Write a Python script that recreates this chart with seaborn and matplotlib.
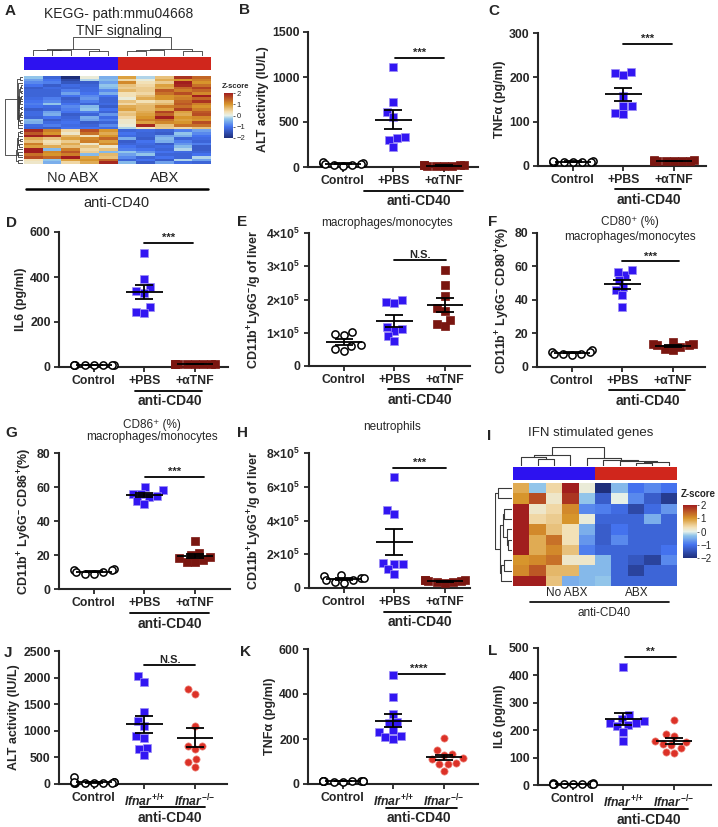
import numpy as np
import pandas as pd
import matplotlib
matplotlib.use("Agg")
import matplotlib.pyplot as plt
import seaborn as sns
from matplotlib.colors import LinearSegmentedColormap, ListedColormap

# ---------------- scatter data ----------------
tnf_groups = ["Control", "+PBS", "+αTNF"]
ifnar_groups = ["Control", r"$\mathit{Ifnar}^{{+}/{+}}$", r"$\mathit{Ifnar}^{{-}/{-}}$"]

# B  ALT activity (IU/L)
alt_ctrl = [40, 60, 30, 20, 50, 15, 35, 25]
alt_pbs = [1110, 725, 615, 560, 335, 320, 300, 225]
alt_atnf = [15, 20, 10, 25, 18, 12, 22, 8]
# C  TNFa (pg/ml)
tnf_ctrl = [10, 9, 11, 10, 10, 9, 11, 10]
tnf_pbs = [210, 205, 212, 158, 135, 117, 136, 120]
tnf_atnf = [12, 12, 11, 13, 12, 12, 11, 13]
# D  IL6 (pg/ml)
il6_ctrl = [8, 9, 8, 7, 9, 8, 8, 9]
il6_pbs = [508, 390, 355, 340, 330, 265, 245, 238]
il6_atnf = [12, 13, 12, 14, 13, 12, 13, 12]
# E  macrophages/monocytes per g liver (x1e5)
mac_ctrl = [0.95, 1.02, 0.93, 0.45, 0.62, 0.60, 0.50]
mac_pbs = [1.92, 1.98, 1.90, 1.10, 1.05, 1.18, 0.90, 0.75]
mac_atnf = [2.90, 2.45, 2.12, 1.75, 1.65, 1.38, 1.20, 1.25]
# F  CD80+ (%)
cd80_ctrl = [8, 9, 10, 8, 7, 9, 8]
cd80_pbs = [55, 57, 58, 52, 48, 46, 43, 36]
cd80_atnf = [13, 15, 12, 14, 10, 13, 11, 14]
# G  CD86+ (%)
cd86_ctrl = [11, 12, 10, 9, 10, 11, 9]
cd86_pbs = [58, 60, 56, 56, 55, 54, 52, 50]
cd86_atnf = [28, 21, 20, 19, 17, 16, 16, 18]
# H  neutrophils per g liver (x1e5)
neu_ctrl = [0.8, 0.7, 0.6, 0.5, 0.3, 0.35, 0.45, 0.6]
neu_pbs = [6.6, 4.6, 4.4, 1.5, 1.45, 1.4, 1.1, 0.83]
neu_atnf = [0.5, 0.45, 0.4, 0.35, 0.3, 0.4, 0.45, 0.35]
# J  ALT, Ifnar
alt2_ctrl = [130, 40, 20, 30, 10, 25, 15, 35, 20, 10]
alt2_wt = [2030, 1925, 1350, 1190, 1090, 900, 870, 680, 650, 540]
alt2_ko = [1780, 1690, 1090, 720, 720, 650, 470, 410, 320]
# K  TNFa, Ifnar
tnf2_ctrl = [12, 11, 12, 13, 12, 11, 12, 13, 12, 12]
tnf2_wt = [485, 385, 310, 275, 270, 240, 230, 215, 210, 200]
tnf2_ko = [205, 150, 135, 130, 115, 110, 95, 90, 88, 60]
# L  IL6, Ifnar
il62_ctrl = [5, 6, 5, 4, 5, 6, 5, 4, 5, 5]
il62_wt = [430, 255, 240, 232, 228, 225, 220, 215, 195, 160]
il62_ko = [238, 185, 180, 160, 158, 150, 145, 135, 122, 118]

sci_ticks4 = ["0", r"1×10$^5$", r"2×10$^5$", r"3×10$^5$", r"4×10$^5$"]
sci_ticks8 = ["0", r"2×10$^5$", r"4×10$^5$", r"6×10$^5$", r"8×10$^5$"]

# ---------------- heatmap data (z-scores) ----------------
tnf_pathway_z = [
    [-0.3, 0.1, -0.5, -1.2, -2.0, 0.9, 1.8, 1.4, 0.6, -0.2],
    [-0.6, -0.2, -0.4, -1.0, -1.6, 0.4, 1.0, 1.2, 0.8, 0.1],
    [-0.8, -1.3, -0.6, -0.9, -1.4, 1.1, 2.0, 1.0, 0.5, 0.3],
    [-1.0, -1.2, -0.3, -1.3, -1.1, 0.6, 1.9, 1.3, 0.9, 0.4],
    [-1.1, -0.9, -1.2, -0.6, -1.0, 0.5, 0.9, 1.5, 1.7, 0.8],
    [-1.2, -1.1, -0.8, -1.2, -0.9, 0.7, 1.2, 1.4, 1.5, 0.5],
    [-1.2, -0.5, -1.1, -1.0, -1.2, 0.4, 1.0, 1.1, 2.0, 1.0],
    [-1.0, -0.4, -1.3, -1.1, -0.8, 0.8, 1.3, 1.0, 1.2, 0.7],
    [-1.1, -1.2, -0.7, -0.5, -1.3, 0.6, 0.8, 1.6, 1.4, 0.9],
    [-1.2, -0.8, -1.0, -1.2, -1.0, 0.3, 1.1, 2.0, 1.0, 0.6],
    [-1.3, -1.1, -0.4, -1.1, -1.2, 0.5, 1.4, 1.7, 0.8, 0.5],
    [-0.4, -0.6, -0.9, -1.3, -1.1, 0.2, 0.9, 1.0, 1.3, 1.2],
    [-0.9, -1.2, -1.1, -0.3, -1.0, 0.4, 1.5, 1.2, 0.7, 0.6],
    [-1.1, -0.7, -1.2, -0.9, -1.3, 0.1, 1.2, 1.4, 1.0, 0.8],
    [-1.2, -1.0, -0.5, -1.2, -0.6, 0.3, 1.6, 1.1, 1.3, 0.4],
    [-0.5, -1.3, -1.2, -1.1, -1.0, 0.2, 1.0, 1.6, 1.1, 0.9],
    [-1.0, -0.9, -1.2, -0.8, -1.2, 0.6, 1.4, 1.8, 0.5, 0.3],
    [-1.3, -0.3, -1.0, -1.2, -0.9, 0.9, 1.7, 1.2, 0.9, 0.7],
    [-1.1, -1.2, -0.8, -0.9, -1.1, 0.1, 1.3, 1.3, 0.6, 1.9],
    [-1.2, -1.0, -1.1, -1.3, -1.0, -0.2, 0.4, 0.6, 0.5, 0.3],
    [1.9, 1.6, 1.0, 1.2, 0.4, -1.2, -0.9, -0.6, -1.2, -1.1],
    [1.5, 1.3, 0.8, 1.0, 0.2, -1.0, -0.3, -0.8, -1.3, -1.2],
    [0.8, 1.1, 1.4, 0.6, 0.9, -0.5, -1.2, -1.1, -0.4, -1.3],
    [2.0, 0.4, 0.6, -0.4, 1.2, -0.9, -0.2, -1.3, -1.2, -1.0],
    [2.0, 0.3, 1.0, 1.8, 0.7, -1.1, -0.5, -1.0, -0.6, -1.2],
    [2.0, 0.5, -0.4, 1.1, 1.5, -0.3, -1.1, -1.2, -1.0, -0.7],
    [1.2, 0.2, 1.1, 0.4, 0.8, -1.2, -0.7, -0.9, -1.3, -1.1],
    [1.6, 0.9, 0.6, 1.4, 2.0, -0.8, -1.2, -0.2, -1.0, -1.2],
    [0.6, 1.2, 0.9, 0.3, 0.5, -1.3, -0.9, -1.2, -0.5, -1.0],
    [1.3, -0.4, 0.7, 1.0, 1.2, -0.6, -1.2, -1.0, -1.2, -0.3],
    [0.9, 0.6, 0.2, 0.8, 0.6, -1.0, -0.4, -1.3, -1.1, -1.2],
    [0.3, 1.0, 1.4, -0.3, 0.9, -1.2, -0.2, -0.6, -1.3, -1.0],
    [0.2, 0.8, 1.9, -0.5, 0.4, -0.4, -1.1, -1.2, -0.6, -1.3],
]
ifn_genes_z = [
    [0.8, -0.3, 0.4, 2.0, 0.1, -2.0, -0.4, -1.0, -1.0, -0.8],
    [1.0, 1.6, 0.2, 1.8, -0.3, -1.3, 0.0, -0.8, -1.8, -1.3],
    [2.0, 0.2, 0.4, 1.1, -0.8, -0.9, -1.1, -1.6, -0.7, -1.1],
    [2.0, 0.4, 0.5, 1.0, 0.1, -1.2, -1.2, -1.2, -1.2, -0.5],
    [2.0, 1.1, 0.6, 0.3, -0.5, -1.3, -1.0, -1.2, -1.2, -1.2],
    [2.0, 0.8, 1.3, 0.3, -0.7, -1.3, -0.8, -1.2, -1.2, -1.2],
    [2.0, 0.8, 1.1, 0.6, -0.9, -1.2, -1.2, -1.2, -1.0, -1.2],
    [1.0, 1.1, 1.3, 0.2, 0.2, -0.4, -1.2, -1.4, -0.8, -1.7],
    [1.1, 1.5, 0.7, 0.7, -0.4, -0.4, -1.2, -1.7, -1.2, -1.2],
    [2.0, 2.0, 0.6, -0.5, -0.4, -0.3, -1.2, -1.2, -1.2, -1.2],
]
heat_groups = [0, 0, 0, 0, 0, 1, 1, 1, 1, 1]  # 0 = No ABX, 1 = ABX

BLUE = "#3216f2"
MAROON = "#7a1610"
RED = "#dc3127"
STRIP_BLUE = "#2d12f0"
STRIP_RED = "#d0261c"

W, H = 718, 827

sns.set_style("ticks")
plt.rcParams["font.family"] = ["Liberation Sans", "DejaVu Sans"]
plt.rcParams["font.weight"] = "bold"
plt.rcParams["mathtext.fontset"] = "custom"
plt.rcParams["mathtext.rm"] = "Liberation Sans:bold"
plt.rcParams["mathtext.bf"] = "Liberation Sans:bold"
plt.rcParams["mathtext.it"] = "Liberation Sans:italic:bold"
plt.rcParams["axes.linewidth"] = 1.5

zcmap = LinearSegmentedColormap.from_list("zscore", [
    (0.0, "#1f2f7a"), (0.25, "#4472ee"), (0.42, "#8ec3ea"), (0.5, "#e6f0e8"),
    (0.58, "#f3e0b5"), (0.75, "#d8962c"), (1.0, "#a11e1e")])

fig = plt.figure(figsize=(W / 100, H / 100), dpi=100)


def px_axes(x, y, w, h):
    return fig.add_axes([x / W, 1 - (y + h) / H, w / W, h / H])


def ftext(x, y, s, **kw):
    kw.setdefault("ha", "center")
    kw.setdefault("va", "center")
    fig.text(x / W, 1 - y / H, s, **kw)


def fline(x1, x2, y, lw=1.5):
    fig.add_artist(plt.Line2D([x1 / W, x2 / W], [1 - y / H, 1 - y / H], color="k", lw=lw))


ctrl_style = dict(marker="o", color="white", edgecolor="black", linewidth=1.1)
pbs_style = dict(marker="s", color=BLUE, edgecolor="#9c8cf6", linewidth=0.5)
atnf_style = dict(marker="s", color=MAROON, edgecolor=MAROON, linewidth=0.5)
ko_style = dict(marker="o", color=RED, edgecolor="#ee8a80", linewidth=0.5)


def scatter_panel(box, labels, groups, styles, yticks, yticklabels, ylabel, sig, sig_text, bracket):
    ax = px_axes(*box)
    rows = []
    for lab, vals in zip(labels, groups):
        rows += [(lab, v) for v in vals]
    df = pd.DataFrame(rows, columns=["group", "value"])
    for lab, st in zip(labels, styles):
        sns.swarmplot(data=df[df.group == lab], x="group", y="value", order=labels,
                      ax=ax, size=5.2, warn_thresh=1, **st)
    for i, vals in enumerate(groups):
        m = np.mean(vals)
        s = np.std(vals, ddof=1) / np.sqrt(len(vals))
        ax.hlines(m, i - 0.36, i + 0.36, color="k", lw=1.3, zorder=5)
        ax.hlines([m - s, m + s], i - 0.18, i + 0.18, color="k", lw=1.3, zorder=5)
        ax.vlines(i, m - s, m + s, color="k", lw=1.3, zorder=5)
    for c in ax.collections:
        c.set_clip_on(False)
    ax.set_xlim(-0.69, -0.69 + box[2] / 50.5)
    ax.set_ylim(yticks[0], yticks[-1])
    ax.set_yticks(yticks, yticklabels)
    ax.set_xlabel("")
    ax.set_ylabel(ylabel, fontsize=9, fontweight="bold", labelpad=2)
    ax.tick_params(axis="both", width=1.3, length=3.5, labelsize=8.8, pad=2.5)
    sns.despine(ax=ax)
    x1, x2, y = sig
    ax.plot([x1, x2], [y, y], color="k", lw=1.3, clip_on=False)
    ax.text((x1 + x2) / 2, y, sig_text, ha="center", va="bottom", fontsize=8, fontweight="bold")
    tr = ax.get_xaxis_transform()
    ax.plot(bracket, [-0.175, -0.175], transform=tr, color="k", lw=1.3, clip_on=False)
    ax.text(1.5, -0.255, "anti-CD40", transform=tr, ha="center", va="center",
            fontsize=10, fontweight="bold")
    return ax


def avg_linkage(X):
    n = len(X)
    D = np.sqrt(((X[:, None, :] - X[None, :, :]) ** 2).sum(-1))
    clusters = {i: [i] for i in range(n)}
    merges = []
    nid = n
    while len(clusters) > 1:
        keys = list(clusters)
        best = None
        for ii in range(len(keys)):
            for jj in range(ii + 1, len(keys)):
                a, b = keys[ii], keys[jj]
                d = D[np.ix_(clusters[a], clusters[b])].mean()
                if best is None or d < best[2]:
                    best = (a, b, d)
        a, b, d = best
        merges.append(best)
        clusters[nid] = clusters.pop(a) + clusters.pop(b)
        nid += 1
    return merges


def leaf_order(merges, n):
    children = {n + k: (a, b) for k, (a, b, d) in enumerate(merges)}

    def walk(node):
        if node < n:
            return [node]
        la, lb = walk(children[node][0]), walk(children[node][1])
        return la + lb if min(la) < min(lb) else lb + la
    return walk(n + len(merges) - 1)


def draw_dendro(ax, merges, n, order, orient, lw):
    pos = {leaf: i + 0.5 for i, leaf in enumerate(order)}
    hgt = {leaf: 0.0 for leaf in range(n)}
    for k, (a, b, d) in enumerate(merges):
        xs = [pos[a], pos[a], pos[b], pos[b]]
        ys = [hgt[a], d, d, hgt[b]]
        if orient == "top":
            ax.plot(xs, ys, color="#3a3a3a", lw=lw)
        else:
            ax.plot(ys, xs, color="#3a3a3a", lw=lw)
        pos[n + k] = (pos[a] + pos[b]) / 2
        hgt[n + k] = d
    top = max(m[2] for m in merges) * 1.02
    if orient == "top":
        ax.set_xlim(0, n)
        ax.set_ylim(0, top)
    else:
        ax.set_ylim(n, 0)
        ax.set_xlim(top, 0)
    ax.set_axis_off()


def heat_panel(mat, box, strip_box, top_box, left_box, cbar_box, tick_size, lw):
    X = np.array(mat)
    rm = avg_linkage(X)
    ro = leaf_order(rm, len(X))
    cm = avg_linkage(X.T)
    co = leaf_order(cm, X.shape[1])
    ax = px_axes(*box)
    cax = px_axes(*cbar_box)
    sns.heatmap(X[np.ix_(ro, co)], ax=ax, cmap=zcmap, vmin=-2, vmax=2, cbar_ax=cax,
                xticklabels=False, yticklabels=False)
    cax.set_yticks([-2, -1, 0, 1, 2])
    cax.tick_params(labelsize=tick_size, length=1.5, width=0.5, pad=1)
    for t in cax.get_yticklabels():
        t.set_fontweight("normal")
    sax = px_axes(*strip_box)
    sns.heatmap(np.array(heat_groups)[co][None, :], ax=sax, vmin=0, vmax=1,
                cmap=ListedColormap([STRIP_BLUE, STRIP_RED]), cbar=False,
                xticklabels=False, yticklabels=False)
    draw_dendro(px_axes(*top_box), cm, X.shape[1], co, "top", lw)
    draw_dendro(px_axes(*left_box), rm, len(X), ro, "left", lw)


# ---------------- A ----------------
heat_panel(tnf_pathway_z, (24, 76, 187, 88), (24, 57, 187, 13), (24, 37, 187, 19),
           (5, 76, 18, 88), (224, 93, 9, 45), 5.5, 0.6)
ftext(119, 14, "KEGG- path:mmu04668", fontsize=10, fontweight="normal")
ftext(119, 31, "TNF signaling", fontsize=10, fontweight="normal")
ftext(222, 86, "Z-score", fontsize=5.5, ha="left")
ftext(73, 178, "No ABX", fontsize=10.5, fontweight="normal")
ftext(165, 178, "ABX", fontsize=10.5, fontweight="normal")
fline(26, 208, 189, lw=1.8)
ftext(116, 203, "anti-CD40", fontsize=10.5, fontweight="normal")

# ---------------- I ----------------
heat_panel(ifn_genes_z, (513, 483, 164, 103), (513, 467, 164, 13), (513, 447, 164, 19),
           (495, 483, 17, 103), (683, 505, 14, 53), 7, 0.8)
ftext(591, 433, "IFN stimulated genes", fontsize=9.5, fontweight="normal")
ftext(681, 494, "Z-score", fontsize=7, ha="left")
ftext(567, 593, "No ABX", fontsize=8.5, fontweight="normal")
ftext(637, 593, "ABX", fontsize=8.5, fontweight="normal")
fline(530, 669, 602, lw=1.2)
ftext(604, 613, "anti-CD40", fontsize=8.5, fontweight="normal")

# ---------------- scatter panels ----------------
three = [ctrl_style, pbs_style, atnf_style]
ifn_styles = [ctrl_style, pbs_style, ko_style]

scatter_panel((308, 32, 170, 135), tnf_groups, [alt_ctrl, alt_pbs, alt_atnf], three,
              [0, 500, 1000, 1500], ["0", "500", "1000", "1500"], "ALT activity (IU/L)",
              (1.03, 2.0, 1209), "***", (0.42, 2.38))
scatter_panel((538, 33, 168, 133), tnf_groups, [tnf_ctrl, tnf_pbs, tnf_atnf], three,
              [0, 100, 200, 300], ["0", "100", "200", "300"], "TNFα (pg/ml)",
              (1.0, 1.97, 275), "***", (0.83, 2.14))
scatter_panel((59, 232, 169, 135), tnf_groups, [il6_ctrl, il6_pbs, il6_atnf], three,
              [0, 200, 400, 600], ["0", "200", "400", "600"], "IL6 (pg/ml)",
              (1.0, 1.97, 550), "***", (0.81, 2.14))
scatter_panel((309, 233, 161, 133), tnf_groups, [mac_ctrl, mac_pbs, mac_atnf], three,
              [0, 1, 2, 3, 4], sci_ticks4, r"CD11b$^{+}$Ly6G$^{-}$/g of liver",
              (1.0, 2.03, 3.18), "N.S.", (0.87, 2.14))
scatter_panel((537, 233, 168, 134), tnf_groups, [cd80_ctrl, cd80_pbs, cd80_atnf], three,
              [0, 20, 40, 60, 80], ["0", "20", "40", "60", "80"],
              r"CD11b$^{+}$ Ly6G$^{-}$ CD80$^{+}$(%)",
              (1.0, 2.13, 63), "***", (0.73, 2.25))
scatter_panel((59, 453, 171, 136), tnf_groups, [cd86_ctrl, cd86_pbs, cd86_atnf], three,
              [0, 20, 40, 60, 80], ["0", "20", "40", "60", "80"],
              r"CD11b$^{+}$ Ly6G$^{-}$ CD86$^{+}$(%)",
              (1.01, 2.18, 66), "***", (0.71, 2.28))
scatter_panel((309, 453, 161, 135), tnf_groups, [neu_ctrl, neu_pbs, neu_atnf], three,
              [0, 2, 4, 6, 8], sci_ticks8, r"CD11b$^{+}$Ly6G$^{+}$/g of liver",
              (0.98, 2.02, 7.1), "***", (0.79, 2.12))
scatter_panel((59, 651, 168, 133), ifnar_groups, [alt2_ctrl, alt2_wt, alt2_ko], ifn_styles,
              [0, 500, 1000, 1500, 2000, 2500], ["0", "500", "1000", "1500", "2000", "2500"],
              "ALT activity (IU/L)", (1.0, 2.01, 2237), "N.S.", (0.91, 2.2))
scatter_panel((308, 649, 170, 135), ifnar_groups, [tnf2_ctrl, tnf2_wt, tnf2_ko], ifn_styles,
              [0, 200, 400, 600], ["0", "200", "400", "600"], "TNFα (pg/ml)",
              (0.98, 2.02, 489), "****", (0.85, 2.26))
scatter_panel((538, 648, 173, 137), ifnar_groups, [il62_ctrl, il62_wt, il62_ko], ifn_styles,
              [0, 100, 200, 300, 400, 500], ["0", "100", "200", "300", "400", "500"],
              "IL6 (pg/ml)", (1.03, 2.05, 467), "**", (1.0, 2.28))

# panel titles
ftext(387, 223, "macrophages/monocytes", fontsize=8.5, fontweight="normal")
ftext(630, 222, "CD80⁺ (%)", fontsize=8.5, fontweight="normal")
ftext(630, 237, "macrophages/monocytes", fontsize=8.5, fontweight="normal")
ftext(152, 425, "CD86⁺ (%)", fontsize=8.5, fontweight="normal")
ftext(152, 437, "macrophages/monocytes", fontsize=8.5, fontweight="normal")
ftext(392, 427, "neutrophils", fontsize=8.5, fontweight="normal")

# panel letters
for letter, x, y in [("A", 5, 4), ("B", 239, 3), ("C", 488, 4), ("D", 6, 216),
                     ("E", 237, 215), ("F", 488, 215), ("G", 5, 426), ("H", 237, 426),
                     ("I", 487, 429), ("J", 4, 646), ("K", 240, 645), ("L", 488, 644)]:
    ftext(x, y, letter, fontsize=11, ha="left", va="top")

fig.savefig("out.png", dpi=100)
